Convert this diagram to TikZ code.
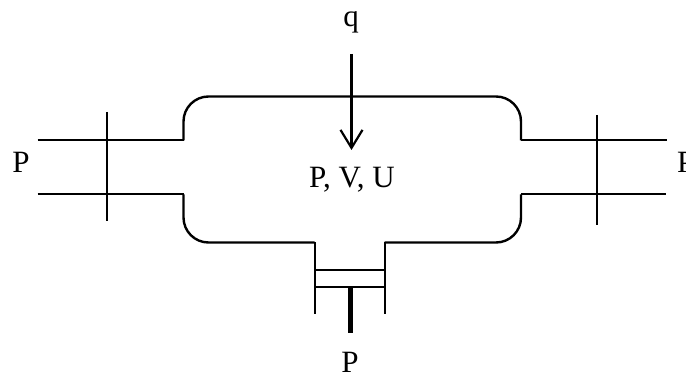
\documentclass[tikz,border=0pt]{standalone}
\usepackage{fontspec}
\setmainfont{Liberation Serif}
\usetikzlibrary{arrows.meta}

\begin{document}
\begin{tikzpicture}[
  x=1pt, y=-1pt,
  wall/.style={line width=2.4pt, black},
  thinwall/.style={line width=2pt, black},
  rod/.style={line width=4.4pt, black},
  heat/.style={line width=2.2pt, -{Straight Barb[length=18pt, width=22pt, line width=2.2pt]}},
  lbl/.style={font=\fontsize{31}{33}\selectfont, inner sep=0pt, anchor=base},
]
  \useasboundingbox (0,0) rectangle (686,374);

  % Vessel
  \draw[wall, rounded corners=25pt] (183.5,140.5) -- (183.5,96.5) -- (521,96.5) -- (521,140.5);
  \draw[wall, rounded corners=25pt] (183.5,194.5) -- (183.5,242.5) -- (314.5,242.5);
  \draw[wall, rounded corners=25pt] (384.5,242.5) -- (521,242.5) -- (521,194.5);

  % Pipes
  \draw[thinwall] (37.5,140.5) -- (183.5,140.5);
  \draw[thinwall] (37.5,194.5) -- (183.5,194.5);
  \draw[thinwall] (521,140.5) -- (667,140.5);
  \draw[thinwall] (521,194.5) -- (666,194.5);
  \draw[thinwall] (106.5,112) -- (106.5,221);
  \draw[thinwall] (596.5,115) -- (596.5,225);

  % Piston
  \draw[thinwall] (314.5,242.5) -- (314.5,314.5);
  \draw[thinwall] (384.5,242.5) -- (384.5,314.5);
  \draw[thinwall] (314.5,270) -- (384.5,270);
  \draw[thinwall] (314.5,287) -- (384.5,287);
  \draw[rod] (350.5,287) -- (350.5,333);

  % Labels
  \node[lbl] (qlabel) at (351,27) {q};
  \node[lbl] (state) at (352,188) {P, V, U};
  \node[lbl] (pleft) at (21,173) {P};
  \node[lbl, anchor=base west] (pright) at (677,173) {P};
  \node[lbl] (pbottom) at (350,372.5) {P};

  % Heat arrow
  \coordinate (heatstart) at (351.5,54);
  \coordinate (heatend) at (351.5,150);
  \draw[heat] (heatstart) -- (heatend);
\end{tikzpicture}
\end{document}
